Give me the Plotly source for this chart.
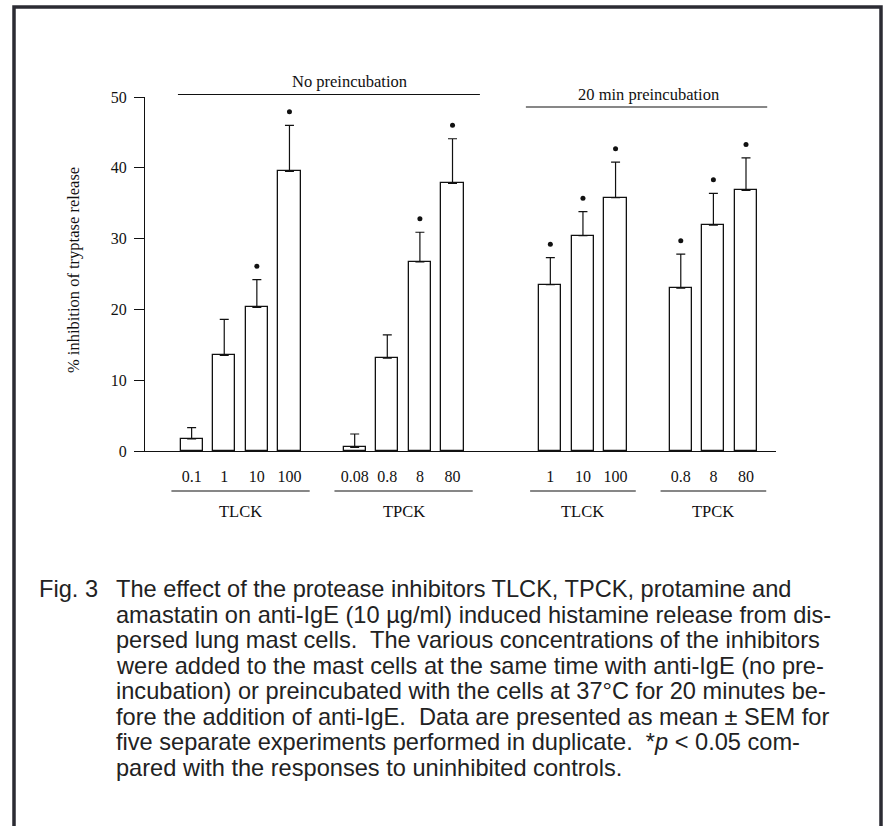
import plotly.graph_objects as go

# ---------------- data ----------------
dose_labels = ["0.1", "1", "10", "100",
               "0.08", "0.8", "8", "80",
               "1", "10", "100",
               "0.8", "8", "80"]
bar_pos = [0, 1, 2, 3, 5, 6, 7, 8, 11, 12, 13, 15, 16, 17]
inhibition = [1.7, 13.5, 20.3, 39.5,
              0.5, 13.1, 26.7, 37.8,
              23.5, 30.4, 35.8,
              23.0, 31.9, 36.8]
sem = [1.6, 5.1, 3.9, 6.5,
       1.9, 3.3, 4.2, 6.3,
       3.8, 3.4, 5.0,
       4.8, 4.5, 4.6]
significant = [False, False, True, True,
               False, False, True, True,
               True, True, True,
               True, True, True]
inhibitor_groups = ["TLCK", "TPCK", "TLCK", "TPCK"]
group_members = [[0, 1, 2, 3], [4, 5, 6, 7], [8, 9, 10], [11, 12, 13]]
condition_labels = ["No preincubation", "20 min preincubation"]
y_title = "% inhibition of tryptase release"
unit_label = "(\u00b5g/mL)"
caption_label = "Fig. 3"
caption_lines = [
    "The effect of the protease inhibitors TLCK, TPCK, protamine and",
    "amastatin on anti-IgE (10 \u00b5g/ml) induced histamine release from dis-",
    "persed lung mast cells.\u00a0 The various concentrations of the inhibitors",
    "were added to the mast cells at the same time with anti-IgE (no pre-",
    "incubation) or preincubated with the cells at 37\u00b0C for 20 minutes be-",
    "fore the addition of anti-IgE.\u00a0 Data are presented as mean \u00b1 SEM for",
    "five separate experiments performed in duplicate.\u00a0 *<i>p</i> &lt; 0.05 com-",
    "pared with the responses to uninhibited controls.",
]

# ---------------- layout geometry (pixels) ----------------
W, H = 886, 826
X0, X1 = 145, 776      # plot area left/right
Y0, Y1 = 451, 97       # plot area bottom (value 0) / top (value 50)


def px_x(p):
    return (p - X0) / (X1 - X0)


def px_y(p):
    return (Y0 - p) / (Y0 - Y1)


serif = "Liberation Serif"
sans = "Liberation Sans"
ink = "#111111"

fig = go.Figure()

fig.add_trace(go.Bar(
    x=bar_pos, y=inhibition, width=0.68,
    marker=dict(color="white", line=dict(color=ink, width=1.3)),
    error_y=dict(type="data", array=sem, arrayminus=[0] * len(sem),
                 symmetric=False, color=ink, thickness=1.2, width=4.5),
    showlegend=False, hoverinfo="skip",
))

star_x = [p for p, s in zip(bar_pos, significant) if s]
star_y = [v + e + 1.9 for v, e, s in zip(inhibition, sem, significant) if s]
fig.add_trace(go.Scatter(
    x=star_x, y=star_y, mode="markers",
    marker=dict(symbol="circle", size=5, color=ink),
    showlegend=False, hoverinfo="skip",
))

shapes = []
annotations = []

# inhibitor group underline + name
for name, members in zip(inhibitor_groups, group_members):
    xs = [bar_pos[i] for i in members]
    a, b = min(xs) - 0.62, max(xs) + 0.62
    shapes.append(dict(type="line", xref="x", yref="paper",
                       x0=a, x1=b, y0=px_y(491), y1=px_y(491),
                       line=dict(color=ink, width=1.2)))
    annotations.append(dict(xref="x", yref="paper", x=(a + b) / 2,
                            y=px_y(512), text=name, showarrow=False,
                            xanchor="center", yanchor="middle",
                            font=dict(family=serif, size=16.5, color=ink)))

# condition overlines + labels
cond_spans = [(-0.42, 8.84, 94.5, 4.83, 82), (10.25, 17.65, 107, 14.0, 95)]
for label, (a, b, ly, tx, ty) in zip(condition_labels, cond_spans):
    shapes.append(dict(type="line", xref="x", yref="paper",
                       x0=a, x1=b, y0=px_y(ly), y1=px_y(ly),
                       line=dict(color=ink, width=1.2)))
    annotations.append(dict(xref="x", yref="paper", x=tx, y=px_y(ty),
                            text=label, showarrow=False,
                            xanchor="center", yanchor="middle",
                            font=dict(family=serif, size=16.5, color=ink)))

annotations.append(dict(xref="x", yref="paper", x=18.7, y=px_y(478),
                        text=unit_label, showarrow=False,
                        xanchor="center", yanchor="middle",
                        font=dict(family=serif, size=16.5, color=ink)))

annotations.append(dict(xref="paper", yref="paper", x=px_x(73),
                        y=px_y(270), text=y_title, textangle=-90,
                        showarrow=False, xanchor="center", yanchor="middle",
                        font=dict(family=serif, size=16.5, color=ink)))

# caption
cap_font = dict(family=sans, size=23.6, color="#222222")
line_y0, line_dy = 589, 25.5
annotations.append(dict(xref="paper", yref="paper", x=px_x(37),
                        y=px_y(line_y0), text=caption_label, showarrow=False,
                        xanchor="left", yanchor="middle", font=cap_font))
for k, t in enumerate(caption_lines):
    annotations.append(dict(xref="paper", yref="paper", x=px_x(114),
                            y=px_y(line_y0 + k * line_dy), text=t,
                            showarrow=False, xanchor="left", yanchor="middle",
                            font=cap_font))

# outer frame (open at bottom)
fl, fr, ft, fb = px_x(14), px_x(881), px_y(7), px_y(840)
shapes.append(dict(type="path", xref="paper", yref="paper",
                   path=f"M {fl},{fb} L {fl},{ft} L {fr},{ft} L {fr},{fb}",
                   line=dict(color="#2b2b33", width=3.5)))

fig.update_layout(
    width=W, height=H,
    margin=dict(l=X0, r=W - X1, t=Y1, b=H - Y0, autoexpand=False),
    paper_bgcolor="white", plot_bgcolor="white",
    shapes=shapes, annotations=annotations,
    bargap=0,
    xaxis=dict(range=[-1.43, 17.92], showgrid=False, zeroline=False,
               showline=True, linecolor=ink, linewidth=1.2,
               tickmode="array", tickvals=bar_pos, ticktext=dose_labels,
               ticks="", ticklabelstandoff=11,
               tickfont=dict(family=serif, size=16, color=ink),
               fixedrange=True),
    yaxis=dict(range=[0, 50], showgrid=False, zeroline=False,
               showline=True, linecolor=ink, linewidth=1.2,
               tickmode="array", tickvals=[0, 10, 20, 30, 40, 50],
               ticks="outside", ticklen=10, tickwidth=1.2, tickcolor=ink,
               ticklabelstandoff=4,
               tickfont=dict(family=serif, size=16, color=ink),
               fixedrange=True),
)

fig.write_html("out.html")
